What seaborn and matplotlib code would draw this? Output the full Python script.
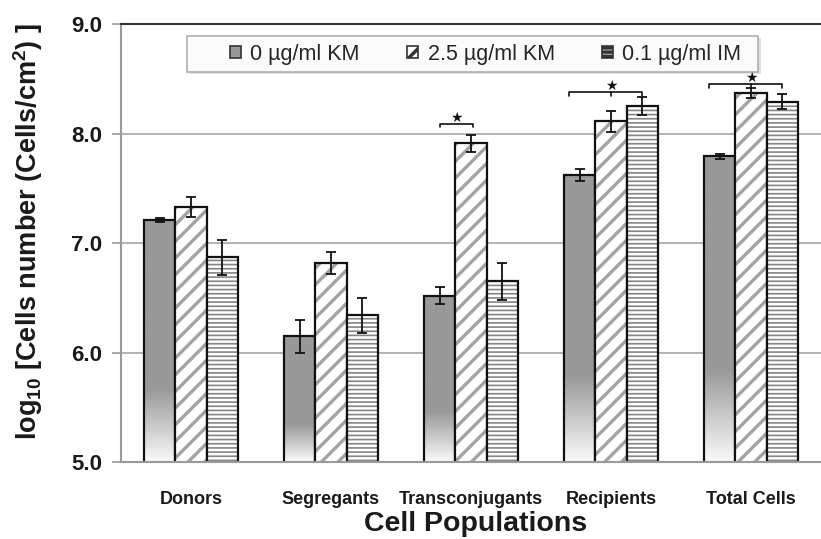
import numpy as np
import pandas as pd
import matplotlib
matplotlib.use("Agg")
import matplotlib.pyplot as plt
import seaborn as sns
from matplotlib.colors import LinearSegmentedColormap, to_rgba
from matplotlib.patches import Rectangle

# data
populations = ["Donors", "Segregants", "Transconjugants", "Recipients", "Total Cells"]
treatments = ["0 µg/ml KM", "2.5 µg/ml KM", "0.1 µg/ml IM"]

km0 = [7.21, 6.15, 6.52, 7.62, 7.79]
km25 = [7.33, 6.82, 7.91, 8.11, 8.37]
im01 = [6.87, 6.34, 6.65, 8.25, 8.29]

km0_err = [0.02, 0.15, 0.08, 0.055, 0.02]
km25_err = [0.09, 0.10, 0.075, 0.10, 0.05]
im01_err = [0.16, 0.16, 0.17, 0.085, 0.07]

# significance brackets: population, first/last treatment index, bracket height
sig_pops = ["Transconjugants", "Recipients", "Total Cells"]
sig_first = [0, 0, 0]
sig_last = [1, 2, 2]
sig_y = [8.09, 8.38, 8.45]

rows = []
for t, vals, errs in zip(treatments, [km0, km25, im01], [km0_err, km25_err, im01_err]):
    for pop, v, e in zip(populations, vals, errs):
        rows.append((pop, t, v, e))
df = pd.DataFrame(rows, columns=["Population", "Treatment", "Value", "Err"])

sns.set_style("white")
plt.rcParams['font.family'] = ['Liberation Sans', 'DejaVu Sans']
plt.rcParams['font.weight'] = 'bold'
plt.rcParams['mathtext.fontset'] = 'custom'
plt.rcParams['mathtext.rm'] = 'Liberation Sans:bold'
plt.rcParams['mathtext.it'] = 'Liberation Sans:bold'
plt.rcParams['mathtext.bf'] = 'Liberation Sans:bold'
plt.rcParams['hatch.linewidth'] = 2.5

fig = plt.figure(figsize=(8.21, 5.39), dpi=100)
ax = fig.add_axes([121 / 821, 77 / 539, 700 / 821, 438 / 539])

sns.barplot(data=df, x="Population", y="Value", hue="Treatment",
            order=populations, hue_order=treatments, width=0.67,
            errorbar=None, palette=["#999999", "white", "white"],
            edgecolor="#111111", linewidth=1.6, legend=False, ax=ax)

ymin, ymax = 5.0, 9.0
fade = LinearSegmentedColormap.from_list(
    "fade", [(0, "#fafafa"), (0.3, "#999999"), (1, "#999999")])


def style_bar(p, hatch, hcolor, hlw):
    p.set_hatch(hatch)
    p.set_edgecolor("#111111")
    if hasattr(p, "set_hatchcolor"):
        p.set_hatchcolor(hcolor)
    else:
        p._hatch_color = to_rgba(hcolor)
    if hasattr(p, "set_hatch_linewidth"):
        p.set_hatch_linewidth(hlw)


# gradient fill for the 0 µg/ml bars
for p in ax.containers[0]:
    x0, w, top = p.get_x(), p.get_width(), p.get_height()
    grad = np.linspace(0, 1, 256).reshape(-1, 1)
    ax.imshow(grad, extent=(x0, x0 + w, ymin, top), origin="lower",
              cmap=fade, aspect="auto", zorder=0.8)
    p.set_facecolor("none")

for p in ax.containers[1]:
    style_bar(p, "//", "#a3a3a3", 2.4)
for p in ax.containers[2]:
    style_bar(p, "----", "#858585", 1.2)

# error bars
for cont, errs in zip(ax.containers, [km0_err, km25_err, im01_err]):
    xs = [p.get_x() + p.get_width() / 2 for p in cont]
    ys = [p.get_height() for p in cont]
    ax.errorbar(xs, ys, yerr=errs, fmt="none", ecolor="#111111",
                elinewidth=1.3, capsize=3.5, capthick=1.3, zorder=3)

# significance brackets
for pop, i0, i1, y in zip(sig_pops, sig_first, sig_last, sig_y):
    k = populations.index(pop)
    p0 = ax.containers[i0][k]
    p1 = ax.containers[i1][k]
    xa = p0.get_x() + p0.get_width() / 2
    xb = p1.get_x() + p1.get_width() / 2
    if i1 - i0 > 1:
        xa -= p0.get_width() * 0.35
    else:
        xb += p1.get_width() * 0.05
    ax.plot([xa, xa, xb, xb], [y - 0.035, y, y, y - 0.035], color="#111111",
            lw=1.2, zorder=4)
    xm = (xa + xb) / 2
    if i1 - i0 > 1:
        pm = ax.containers[1][k]
        xm = pm.get_x() + pm.get_width() / 2
        ax.plot([xm, xm], [y, y - 0.035], color="#111111", lw=1.2, zorder=4)
    ax.text(xm, y + 0.055, "★", ha="center", va="center", fontsize=10,
            color="#111111", family=["DejaVu Sans"], zorder=7)

# axes styling
ax.set_ylim(ymin, ymax)
ax.set_xlim(-0.5, -0.5 + 700 / 143)
ax.set_yticks([5, 6, 7, 8, 9])
ax.set_yticklabels([f"{v:.1f}" for v in [5, 6, 7, 8, 9]], fontsize=16,
                   fontweight="bold", color="#1a1a1a")
ax.set_xticks(range(len(populations)))
ax.set_xticklabels(populations, fontsize=13, fontweight="bold", color="#1a1a1a")
ax.set_xticks(np.arange(-0.5, len(populations), 1.0), minor=True)
ax.tick_params(axis="x", which="major", length=0, pad=21)
ax.tick_params(axis="x", which="minor", length=6, width=1.2, color="#999999",
               direction="out")
ax.tick_params(axis="y", length=6.5, width=1.2, color="#999999", pad=7,
               direction="out", left=True)

ax.set_axisbelow(True)
ax.yaxis.grid(True, color="#a6a6a6", lw=1.2)
ax.xaxis.grid(False)
for side in ["left", "bottom"]:
    ax.spines[side].set_color("#9a9a9a")
    ax.spines[side].set_linewidth(1.5)
ax.spines["top"].set_color("#333333")
ax.spines["top"].set_linewidth(1.5)
ax.spines["right"].set_visible(False)

ax.set_ylabel(r"log$_{10}$ [Cells number (Cells/cm$^{2}$) ]", fontsize=19.5,
              fontweight="bold", color="#1a1a1a")
ax.yaxis.set_label_coords(-0.108, 0.527)
ax.set_xlabel("Cell Populations", fontsize=20.5, fontweight="bold",
              color="#1a1a1a")
ax.xaxis.set_label_coords(0.506, -0.113)

# legend with a drawn frame and soft shadow
bx, by, bw, bh = 66 / 700, 390 / 438, 571 / 700, 36 / 438
ax.add_patch(Rectangle((bx + 3 / 700, by - 2 / 438), bw, bh, transform=ax.transAxes,
                       facecolor="#e0e0e0", edgecolor="none", zorder=5))
ax.add_patch(Rectangle((bx, by), bw, bh, transform=ax.transAxes,
                       facecolor="#fbfbfb", edgecolor="#b0b0b0", lw=1.2, zorder=5.1))
h0 = Rectangle((0, 0), 1, 1, facecolor="#999999", edgecolor="#333333", lw=1.2)
h1 = Rectangle((0, 0), 1, 1, facecolor="white", edgecolor="#333333", lw=1.2)
style_bar(h1, "/", "#a3a3a3", 2.0)
h1.set_edgecolor("#333333")
h2 = Rectangle((0, 0), 1, 1, facecolor="white", edgecolor="#333333", lw=1.2)
style_bar(h2, "----", "#777777", 1.0)
h2.set_edgecolor("#333333")
leg = ax.legend([h0, h1, h2], treatments, loc="center",
                bbox_to_anchor=(0.521, 0.931), ncol=3, frameon=False,
                handlelength=0.5, handleheight=0.5, handletextpad=0.45,
                columnspacing=2.2, prop={"size": 15.5, "weight": "normal"})
leg.set_zorder(6)

fig.savefig("out.png", dpi=100)
